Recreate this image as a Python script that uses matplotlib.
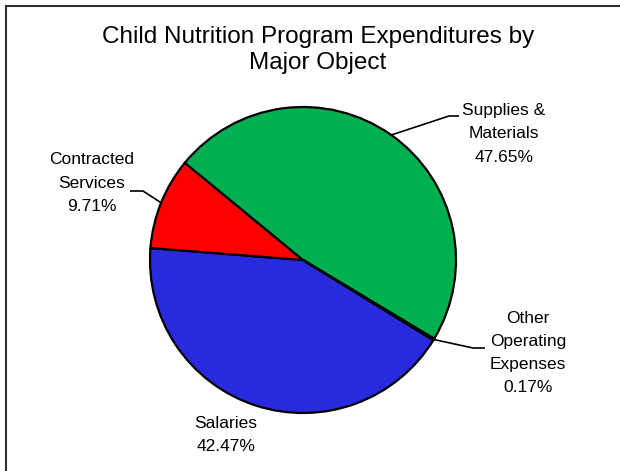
import numpy as np
import matplotlib.pyplot as plt
from matplotlib.patches import Rectangle

plt.rcParams['font.family'] = ['Liberation Sans', 'DejaVu Sans']

# expenditure shares by major object (percent)
categories = ['Salaries', 'Contracted\nServices', 'Supplies &\nMaterials',
              'Other\nOperating\nExpenses']
shares = [42.47, 9.71, 47.65, 0.17]
colors = ['#2929DE', '#FF0000', '#00B050', '#000000']

W, H = 620, 471
fig = plt.figure(figsize=(W / 100, H / 100), dpi=100)
ax = fig.add_axes([0, 0, 1, 1])

# chart frame (only top and left edges fall inside the image)
ax.add_patch(Rectangle((6, -10), W + 20, H - 6 + 10, fill=False,
                       edgecolor='#303030', linewidth=1.5))

cx, cy, r = 303, H - 260, 153
start = -31.6
wedges, _ = ax.pie(shares, colors=colors, startangle=start, counterclock=False,
                   center=(cx, cy), radius=r, frame=True,
                   wedgeprops=dict(edgecolor='black', linewidth=1.6))
ax.set_xlim(0, W)
ax.set_ylim(0, H)
ax.axis('off')

ax.text(318, H - 50, 'Child Nutrition Program Expenditures by\nMajor Object',
        ha='center', va='center', fontsize=17.5, linespacing=1.26)

# label layout: text centre, elbow point, end of horizontal leader
layout = [
    ((226, 435), None, None),
    ((92, 183), (143, 191), (130, 191)),
    ((504, 134), (449, 116), (459, 116)),
    ((528, 353), (473, 348), (485, 348)),
]

for w, name, val, (txt, elbow, end) in zip(wedges, categories, shares, layout):
    label = f'{name}\n{val:.2f}%'
    ax.text(txt[0], H - txt[1], label, ha='center', va='center',
            fontsize=12.5, linespacing=1.68)
    if elbow is not None:
        mid = np.deg2rad((w.theta1 + w.theta2) / 2)
        sx, sy = cx + r * np.cos(mid), cy + r * np.sin(mid)
        ax.plot([sx, elbow[0], end[0]], [sy, H - elbow[1], H - end[1]],
                color='black', linewidth=1.2, solid_capstyle='butt')

fig.savefig('out.png', dpi=100)
